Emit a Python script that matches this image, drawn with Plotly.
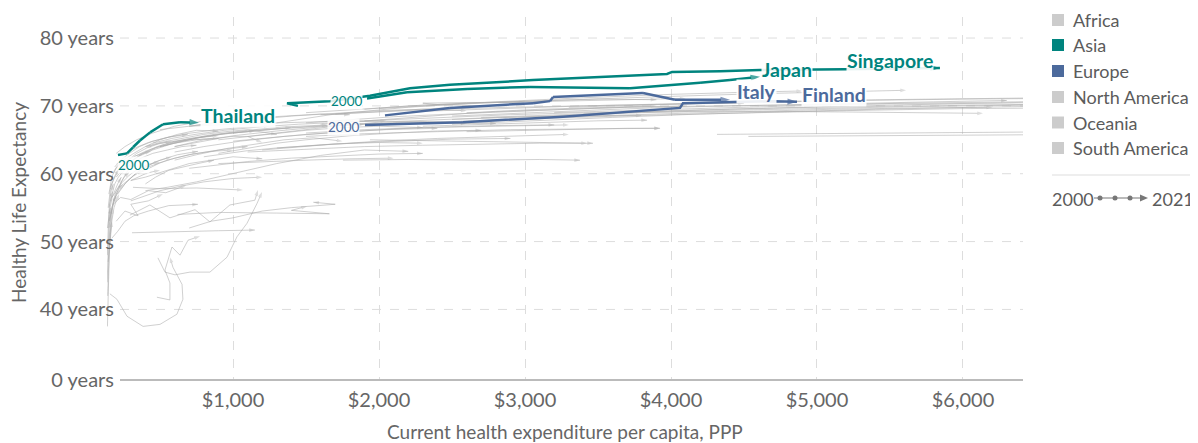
import plotly.graph_objects as go

# --- highlighted countries: health expenditure per capita (PPP $) vs healthy life expectancy
thailand_x = [212, 274, 315, 363, 432, 521, 637, 705, 767]
thailand_y = [62.75, 63.0, 63.9, 64.9, 66.1, 67.3, 67.6, 67.6, 67.5]

japan_x = [1918, 2192, 2603, 3034, 3719, 4062, 4199, 4404, 4610]
japan_y = [71.1, 72.0, 72.5, 72.8, 72.6, 73.1, 73.4, 73.8, 74.3]

singapore_x = [1445, 1370, 1664, 1938, 2212, 2486, 3055, 3514, 3973, 4007, 4336, 4610, 4884, 5192, 5842]
singapore_y = [70.0, 70.4, 70.7, 71.5, 72.6, 73.1, 73.8, 74.2, 74.7, 75.0, 75.1, 75.3, 75.3, 75.4, 75.6]

italy_x = [2041, 2486, 3055, 3171, 3192, 3808, 4027, 4404]
italy_y = [68.6, 69.7, 70.4, 70.7, 71.3, 71.9, 70.9, 70.9]

finland_x = [1904, 2575, 3260, 3719, 4062, 4082, 4699, 4863]
finland_y = [67.2, 67.6, 68.4, 69.1, 69.7, 70.4, 70.7, 70.6]

# --- other countries (drawn in grey), one list of x series and one of y series per region
africa_x = [
    [140, 142, 145, 150, 155, 160, 170],
    [142, 145, 150, 158, 165, 175],
    [145, 150, 160, 170, 185, 200, 220],
    [150, 155, 165, 180, 200, 225, 250],
    [140, 148, 158, 172, 190, 210, 235],
    [155, 165, 180, 200, 225, 255, 290],
    [145, 152, 162, 178, 198, 222],
    [160, 172, 190, 215, 245, 280, 320],
    [150, 158, 170, 188, 210, 235],
    [157, 205, 274, 384, 500, 616, 657, 651, 589, 568],
    [486, 534, 603, 705, 842, 959, 1027, 1096, 1164, 1199],
    [479, 568, 568, 534, 582, 637, 692, 774],
    [294, 431, 568, 740, 842, 979, 1150, 1171],
    [620, 900, 1300, 1660, 1400, 1507],
    [315, 500, 750, 1068],
    [308, 600, 900, 1150],
    [700, 850, 1000, 1200, 1400, 1700, 1550],
    [180, 200, 230, 270, 320, 380, 440],
    [250, 300, 370, 450, 550, 650, 750],
    [400, 470, 560, 650, 760, 870],
    [138, 140, 143, 147, 152, 160],
    [139, 141, 144, 149, 156, 166, 180],
    [170, 210, 260, 320, 420, 560, 760],
    [180, 230, 300, 420, 540, 680],
    [200, 260, 350, 300, 420, 520],
    [160, 190, 230, 280, 340, 410, 490, 580],
    [210, 260, 320, 400, 500, 620, 760],
    [300, 400, 500, 650, 800, 1000, 1200],
]
africa_y = [
    [37.5, 40, 43, 46, 49, 51, 53],
    [42, 45, 48, 51, 53, 55],
    [47, 49, 51, 53, 55, 56, 57],
    [50, 52, 54, 55.5, 57, 58, 58.5],
    [52, 53.5, 55, 56.5, 57.5, 58.5, 59.5],
    [53, 54.5, 56, 57.5, 58.5, 59.5, 60.3],
    [55, 56.5, 58, 59, 60, 60.7],
    [56, 57, 58.5, 59.5, 60.3, 61, 61.5],
    [57, 58.3, 59.5, 60.5, 61.3, 62],
    [42.3, 41.5, 39.0, 37.5, 37.8, 39.3, 41.5, 43.7, 46.2, 47.7],
    [47.6, 45.5, 45.1, 45.5, 45.5, 47.7, 50.7, 52.7, 55.6, 57.3],
    [41.8, 41.4, 43.9, 45.8, 49.2, 48.0, 50.2, 50.8],
    [53.9, 55.4, 53.5, 54.7, 52.9, 55.4, 56.1, 57.6],
    [54.0, 54.3, 54.2, 54.1, 54.6, 55.2],
    [58.0, 57.8, 57.9, 57.6],
    [51.3, 51.5, 51.6, 51.7],
    [52, 53, 53.5, 54.5, 55, 55.5, 55.8],
    [60, 60.8, 61.5, 62, 62.5, 63, 63.3],
    [60.5, 61.5, 62.3, 63, 63.5, 64, 64.2],
    [58.5, 59.5, 60.5, 61, 61.5, 62],
    [44, 46, 48.5, 51, 53, 55],
    [48, 50, 52, 54, 56, 57.5, 58.5],
    [50.5, 51.5, 53, 53.8, 54.5, 55.3, 55.5],
    [55.5, 56.5, 56.2, 57.5, 57.2, 58.3],
    [53, 54.5, 53.8, 55.5, 56, 57],
    [58, 59.5, 60.8, 62, 63, 63.8, 64.4, 64.8],
    [57, 58.5, 59.8, 61, 62, 62.8, 63.3],
    [56, 56.8, 57.5, 58.2, 58.8, 59.3, 59.5],
]

asia_x = [
    [150, 165, 185, 210, 240, 280, 330],
    [200, 260, 340, 450, 600, 780, 1000, 1200],
    [1300, 1700, 2200, 2800, 3400, 4000, 4500, 4900],
    [500, 650, 800, 1000, 1300, 1600, 1900],
    [1500, 1900, 2300, 2700, 3000, 3300],
    [1938, 2300, 2700, 3100, 3425],
    [1753, 2200, 2700, 3100, 3377],
    [250, 320, 420, 550, 700, 900, 1100],
    [180, 220, 280, 360, 460, 580],
    [1900, 2200, 2600, 3000, 3400, 3800, 4100],
    [2600, 3000, 3400, 3700, 3925],
    [2300, 2700, 3100, 3500, 3836],
    [200, 240, 300, 380, 480, 600, 750, 900],
    [230, 290, 370, 470, 600, 760, 950, 1150],
    [280, 350, 450, 580, 740, 930, 1150, 1400],
    [320, 410, 530, 680, 870, 1100, 1350, 1650],
    [190, 230, 290, 360, 450, 560, 690],
    [1200, 1400, 1650, 1900, 2200, 2500, 2900],
    [1300, 1600, 2000, 2400, 2800, 3100, 3300],
    [1100, 1500, 1900, 2300, 2700, 3100, 3466],
    [1500, 1900, 2400, 2900, 3400, 3925],
    [900, 1200, 1500, 1800, 2100],
]
asia_y = [
    [53, 54.5, 56, 57.5, 59, 60.5, 61.5],
    [63, 64, 65, 66, 67, 67.7, 68.3, 68.6],
    [67.5, 68.8, 69.8, 70.6, 71.2, 71.7, 72, 72.2],
    [64, 64.8, 65.5, 66, 66.6, 67, 67.3],
    [66, 66.5, 66.8, 67, 67.1, 67.2],
    [65.0, 64.9, 64.7, 64.6, 64.5],
    [62.0, 62.1, 62.0, 62.1, 62.0],
    [58.5, 59.7, 61, 62, 62.8, 63.5, 64],
    [56, 57.5, 59, 60.5, 61.7, 62.5],
    [69.5, 70, 70.4, 70.6, 70.8, 71, 71.1],
    [66.2, 66.4, 66.6, 66.7, 66.7],
    [67.0, 67.3, 67.6, 67.8, 67.9],
    [59.5, 60.5, 61.8, 63, 64, 64.8, 65.3, 65.6],
    [60.5, 61.7, 62.8, 63.8, 64.6, 65.3, 65.9, 66.3],
    [61.5, 62.5, 63.5, 64.4, 65.2, 65.9, 66.4, 66.8],
    [62.5, 63.4, 64.3, 65.1, 65.8, 66.4, 66.9, 67.2],
    [61, 62, 63, 64, 64.8, 65.4, 65.8],
    [63.5, 63.9, 64.3, 64.6, 64.9, 65.1, 65.2],
    [63.8, 64.2, 64.8, 65.2, 65.5, 65.7, 65.8],
    [63.2, 63.6, 64, 64.2, 64.4, 64.5, 64.5],
    [65.5, 65.9, 66.2, 66.5, 66.6, 66.7],
    [61.5, 61.8, 62, 62.2, 62.3],
]

europe_x = [
    [1500, 1900, 2300, 2700, 3100, 3500, 3900],
    [2500, 3000, 3500, 4000, 4600, 5200, 5800, 6300],
    [2700, 3200, 3800, 4500, 5200, 6000, 6800, 7400],
    [3300, 3900, 4600, 5400, 6200, 7000, 7800],
    [3400, 4000, 4700, 5400, 6100, 6900, 7800],
    [2500, 3100, 3800, 4500, 5100, 5700, 6400, 7000],
    [2300, 2800, 3400, 4000, 4700, 5300, 6000, 6600],
    [2700, 3200, 3800, 4400, 5000, 5700, 6500],
    [2500, 3000, 3600, 4200, 4800, 5400, 6100, 6700],
    [1900, 2400, 2900, 3400, 3900, 4500, 5200, 6137],
    [2300, 2800, 3300, 3900, 4500, 5100, 5700, 6200],
    [1600, 1900, 2200, 2500, 2800, 3100, 3500, 3900],
    [1700, 2100, 2500, 2700, 2400, 2300, 2600, 3000],
    [600, 800, 1000, 1300, 1600, 2000, 2400, 2800],
    [1100, 1400, 1700, 2000, 2400, 2800, 3300, 3800],
    [400, 550, 750, 1000, 1300, 1600, 1900, 2200],
    [300, 400, 550, 700, 850, 1000, 1200],
    [900, 1100, 1300, 1500, 1800, 2100, 2400, 2700],
    [1500, 1800, 2100, 2500, 2900, 3300, 3700, 4100],
    [3200, 3800, 4400, 5000, 5600, 6200, 6800],
    [1000, 1250, 1500, 1800, 2100, 2450, 2800, 3200],
    [800, 950, 1100, 1300, 1500, 1700, 2000, 2300],
    [700, 900, 1100, 1400, 1700, 2000, 2300],
]
europe_y = [
    [69, 69.6, 70.1, 70.5, 70.8, 71, 70.9],
    [68.5, 69, 69.4, 69.8, 70.1, 70.4, 70.6, 70.8],
    [67.7, 68.2, 68.6, 69, 69.3, 69.6, 69.8, 69.8],
    [69.8, 70.2, 70.6, 70.9, 71.2, 71.4, 71.5],
    [68.8, 69.3, 69.7, 70.1, 70.4, 70.7, 70.9],
    [68, 68.5, 69, 69.4, 69.7, 69.9, 70.1, 70.2],
    [69.2, 69.6, 70, 70.3, 70.6, 70.8, 71, 71.1],
    [68.3, 68.7, 69.1, 69.5, 69.8, 70, 70.2],
    [67.3, 67.8, 68.3, 68.8, 69.2, 69.5, 69.8, 70],
    [67.8, 68.3, 68.7, 69, 69.1, 69.2, 69.1, 68.9],
    [67.5, 68, 68.4, 68.8, 69.2, 69.5, 69.7, 69.8],
    [67.3, 67.8, 68.3, 68.8, 69.2, 69.5, 69.8, 70],
    [68.8, 69.3, 69.7, 70, 70.2, 70.4, 70.5, 70.5],
    [64, 64.8, 65.6, 66.3, 66.9, 67.4, 67.6, 67.4],
    [65.5, 66.3, 67, 67.6, 68, 68.3, 68.5, 68.6],
    [57.5, 58, 58.8, 60, 61.5, 62.7, 63.5, 63.3],
    [59, 59.5, 60.5, 61.5, 62, 62.5, 62.2],
    [63, 63.8, 64.5, 65, 65.6, 66, 66.3, 66.4],
    [67.5, 68, 68.4, 68.8, 69.2, 69.5, 69.8, 70],
    [69, 69.4, 69.8, 70.1, 70.4, 70.6, 70.7],
    [64.8, 65.3, 65.8, 66.2, 66.6, 66.9, 67.1, 67.2],
    [62.5, 63, 63.4, 63.8, 64.1, 64.4, 64.6, 64.5],
    [60.8, 61.3, 61.8, 62.3, 62.6, 62.9, 63],
]

north_america_x = [
    [4315, 5200, 6000, 7000, 8000, 9500, 11000, 12300],
    [4530, 5400, 6300, 7200, 8500],
    [2600, 3100, 3700, 4300, 4900, 5500, 6200, 6900],
    [500, 600, 750, 900, 1000, 1100, 1200],
    [500, 700, 1000, 1400, 1800, 2200, 2600],
    [150, 160, 170, 185, 200],
    [700, 850, 1000, 1200, 1400, 1600, 1800],
    [350, 420, 500, 600, 720, 850, 1000],
]
north_america_y = [
    [65.8, 66.0, 66.2, 66.3, 66.4, 66.2, 65.9, 65.6],
    [65.5, 65.7, 65.9, 66.0, 66.0],
    [69, 69.4, 69.8, 70, 70.2, 70.3, 70.3, 70.1],
    [64, 64.5, 65, 65.3, 65.5, 65.5, 64.6],
    [66.5, 67, 67.3, 67.6, 67.8, 67.7, 67.4],
    [52, 53.5, 55, 56, 56.8],
    [67, 67.5, 68, 68.3, 68.6, 68.8, 68.7],
    [60, 60.8, 61.6, 62.3, 62.9, 63.3, 63.5],
]

oceania_x = [
    [2000, 2400, 2900, 3400, 4000, 4600, 5200, 5610],
    [1600, 2000, 2400, 2900, 3300, 3700, 4100, 4500],
    [150, 160, 170, 180],
    [300, 350, 400, 450, 500],
]
oceania_y = [
    [69.6, 70.1, 70.6, 71, 71.4, 71.8, 72.1, 72.3],
    [68.7, 69.1, 69.5, 69.8, 70, 70.2, 70.3, 70.4],
    [55, 56, 57, 57.5],
    [59, 59.5, 60, 60.3, 60.5],
]

south_america_x = [
    [600, 750, 950, 1150, 1350, 1550, 1750],
    [900, 1100, 1300, 1500, 1750, 2000, 2300],
    [700, 900, 1150, 1400, 1700, 2000, 2300, 2600],
    [400, 500, 650, 800, 950, 1100, 1300],
    [250, 320, 400, 500, 620, 750, 900],
    [170, 200, 240, 290, 350, 420, 500],
    [1000, 1200, 1400, 1700, 2000, 2300, 2600],
    [600, 700, 800, 900, 700, 500, 400],
    [260, 330, 420, 540, 680, 850, 1050, 1250],
    [450, 580, 740, 940, 1180, 1450, 1750, 2050],
    [600, 800, 1050, 1350, 1700, 2050, 2400],
]
south_america_y = [
    [62, 62.8, 63.7, 64.4, 65, 65.3, 64.8],
    [65, 65.5, 66, 66.4, 66.8, 67, 66.8],
    [67, 67.5, 68, 68.5, 68.9, 69.3, 69.5, 69.3],
    [64, 64.6, 65.2, 65.8, 66.2, 66.5, 65.8],
    [62, 63, 64, 65, 65.8, 66.4, 66.3],
    [56.5, 57.5, 58.7, 59.8, 60.7, 61.4, 61.7],
    [66, 66.4, 66.8, 67.2, 67.5, 67.7, 67.5],
    [64, 64.5, 65, 65.2, 65, 64.5, 63.9],
    [63, 63.8, 64.6, 65.3, 65.9, 66.4, 66.8, 67],
    [64.5, 65.2, 65.8, 66.4, 66.9, 67.3, 67.6, 67.8],
    [63.2, 64, 64.8, 65.5, 66.1, 66.5, 66.7],
]

regions = ["Africa", "Asia", "Europe", "North America", "Oceania", "South America"]
x_ticks = [1000, 2000, 3000, 4000, 5000, 6000]
y_ticks = [40, 50, 60, 70, 80]

TEAL = "#00847e"
BLUE = "#4c6a9c"
GREY_LINE = "rgba(170,170,170,0.55)"
GREY_KEY = "#cccccc"
FONT = "Lato, 'Open Sans', sans-serif"
TEXT = "#5b5b5b"

# the page body adds an 8px margin, so the figure is 8px smaller than the window
W, H = 1190, 435
# plot area in reference-picture pixels (axis starts just under 40 years, labelled "0 years")
L, R, T, B = 107, 1023, 17, 380
X_RANGE = [137, 6411]
Y_RANGE = [29.6, 83.1]


def px(xp):
    return (xp - L) / (R - L)


def py(yp):
    return (B - yp) / (B - T)


def path_markers(n, start_size, end_size):
    symbols = ["circle"] * (n - 1) + ["arrow"]
    sizes = [start_size] + [0] * (n - 2) + [end_size]
    return symbols, sizes


fig = go.Figure()

grey_sets = [
    (africa_x, africa_y), (asia_x, asia_y), (europe_x, europe_y),
    (north_america_x, north_america_y), (oceania_x, oceania_y),
    (south_america_x, south_america_y),
]
for xs_list, ys_list in grey_sets:
    for xs, ys in zip(xs_list, ys_list):
        sym, size = path_markers(len(xs), 3, 6)
        fig.add_trace(go.Scatter(
            x=xs, y=ys, mode="lines+markers",
            line=dict(color=GREY_LINE, width=1),
            marker=dict(symbol=sym, size=size, color=GREY_LINE, angleref="previous",
                        line=dict(width=0)),
            hoverinfo="skip", showlegend=False,
        ))

highlights = [
    (finland_x, finland_y, BLUE),
    (italy_x, italy_y, BLUE),
    (thailand_x, thailand_y, TEAL),
    (japan_x, japan_y, TEAL),
    (singapore_x, singapore_y, TEAL),
]
for xs, ys, col in highlights:
    sym, size = path_markers(len(xs), 7, 10)
    fig.add_trace(go.Scatter(
        x=xs, y=ys, mode="lines+markers",
        line=dict(color=col, width=2.5),
        marker=dict(symbol=sym, size=size, color=col, angleref="previous", line=dict(width=0)),
        hoverinfo="skip", showlegend=False,
    ))

annotations = []

# end-of-line labels
end_labels = [
    ("Thailand", thailand_x[-1], thailand_y[-1], TEAL, "left", 1, 7),
    ("Japan", japan_x[-1], japan_y[-1], TEAL, "left", 1, 7),
    ("Singapore", singapore_x[-1], singapore_y[-1], TEAL, "right", -6, 7),
    ("Italy", italy_x[-1], italy_y[-1], BLUE, "left", 6, 8),
    ("Finland", finland_x[-1], finland_y[-1], BLUE, "left", 4, 7),
]
for txt, x, y, col, anchor, xs, ys in end_labels:
    annotations.append(dict(
        x=x, y=y, xref="x", yref="y", text=f"<b>{txt}</b>", showarrow=False,
        xanchor=anchor, yanchor="middle", xshift=xs, yshift=ys,
        font=dict(family=FONT, size=19.5, color=col),
        bgcolor="rgba(255,255,255,0.9)", borderpad=0,
    ))

# start-year labels
start_labels = [
    (thailand_x[0], thailand_y[0], TEAL, "left", -1, -10),
    (japan_x[0], japan_y[0], TEAL, "right", -4, -3),
    (finland_x[0], finland_y[0], BLUE, "right", -5, -2),
]
for x, y, col, anchor, xs, ys in start_labels:
    annotations.append(dict(
        x=x, y=y, xref="x", yref="y", text="2000", showarrow=False,
        xanchor=anchor, yanchor="middle", xshift=xs, yshift=ys,
        font=dict(family=FONT, size=13.5, color=col),
        bgcolor="rgba(255,255,255,0.85)", borderpad=0,
    ))

# axis titles
annotations.append(dict(
    x=0.5, y=py(431), xref="paper", yref="paper", text="Current health expenditure per capita, PPP",
    showarrow=False, xanchor="center", yanchor="middle",
    font=dict(family=FONT, size=19, color="#666"),
))
annotations.append(dict(
    x=px(18), y=py(203), xref="paper", yref="paper", text="Healthy Life Expectancy",
    showarrow=False, xanchor="center", yanchor="middle", textangle=-90,
    font=dict(family=FONT, size=19, color="#666"),
))

shapes = []

# horizontal dashed grid
for v in y_ticks:
    shapes.append(dict(type="line", xref="paper", yref="y", x0=px(120), x1=1, y0=v, y1=v,
                       line=dict(color="#dddddd", width=1, dash="dash"), layer="below"))
# x axis line
shapes.append(dict(type="line", xref="paper", yref="paper", x0=px(120), x1=1, y0=0, y1=0,
                   line=dict(color="#bbbbbb", width=2)))

# legend
key_colors = [GREY_KEY, TEAL, BLUE, GREY_KEY, GREY_KEY, GREY_KEY]
key_rows = [20, 45, 71, 97, 122.5, 148]
for name, col, yc in zip(regions, key_colors, key_rows):
    shapes.append(dict(type="rect", xref="paper", yref="paper",
                       x0=px(1052), x1=px(1064), y0=py(yc + 6), y1=py(yc - 6),
                       fillcolor=col, line=dict(width=0)))
    annotations.append(dict(
        x=px(1071), y=py(yc), xref="paper", yref="paper", text=name, showarrow=False,
        xanchor="left", yanchor="middle", font=dict(family=FONT, size=18, color=TEXT),
    ))

shapes.append(dict(type="line", xref="paper", yref="paper", x0=px(1052), x1=px(1194),
                   y0=py(175), y1=py(175), line=dict(color="#dddddd", width=1)))
annotations.append(dict(x=px(1050), y=py(199), xref="paper", yref="paper", text="2000",
                        showarrow=False, xanchor="left", yanchor="middle",
                        font=dict(family=FONT, size=18, color=TEXT)))
annotations.append(dict(x=px(1150), y=py(199), xref="paper", yref="paper", text="2021",
                        showarrow=False, xanchor="left", yanchor="middle",
                        font=dict(family=FONT, size=18, color=TEXT)))
shapes.append(dict(type="line", xref="paper", yref="paper", x0=px(1094), x1=px(1142),
                   y0=py(198), y1=py(198), line=dict(color="#777777", width=1.2)))
for cx in [1100, 1115, 1130]:
    shapes.append(dict(type="circle", xref="paper", yref="paper",
                       x0=px(cx - 2.5), x1=px(cx + 2.5), y0=py(198 + 2.5), y1=py(198 - 2.5),
                       fillcolor="#777777", line=dict(width=0)))
shapes.append(dict(type="path", xref="paper", yref="paper",
                   path=f"M {px(1140)},{py(194.5)} L {px(1148)},{py(198)} L {px(1140)},{py(201.5)} Z",
                   fillcolor="#777777", line=dict(width=0)))

fig.update_layout(
    width=W, height=H,
    margin=dict(l=L - 8, r=W - (R - 8), t=T - 8, b=H - (B - 8)),
    paper_bgcolor="white", plot_bgcolor="white",
    font=dict(family=FONT, color="#666"),
    showlegend=False,
    xaxis=dict(
        range=X_RANGE, tickvals=x_ticks, ticktext=[f"${v:,}" for v in x_ticks],
        showgrid=True, gridcolor="#dddddd", griddash="dash", gridwidth=1,
        zeroline=False, showline=False, ticks="", ticklabelstandoff=6,
        tickfont=dict(family=FONT, size=20, color="#666"),
    ),
    yaxis=dict(
        range=Y_RANGE, tickvals=[Y_RANGE[0]] + y_ticks,
        ticktext=["0 years"] + [f"{v} years" for v in y_ticks],
        showgrid=False, zeroline=False, showline=False, ticks="", ticklabelstandoff=-8,
        tickfont=dict(family=FONT, size=20, color="#666"),
    ),
    shapes=shapes,
    annotations=annotations,
)

fig.write_html("out.html")
